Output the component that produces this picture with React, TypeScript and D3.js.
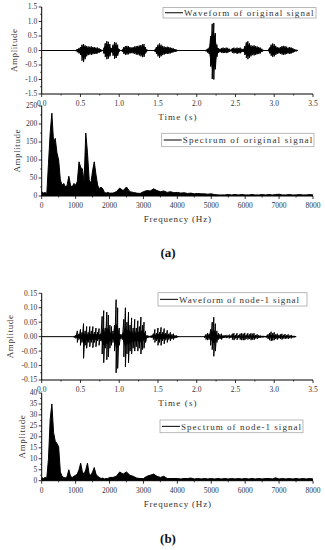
import React from "react";
import * as d3 from "d3";

const W = 325;
const H = 550;
const LEFT = 41.7;
const RIGHT = 313;

// ---- waveforms: envelope samples (max / min) every 0.02 s inside each burst ----
const WAVE_STEP = 0.02;

const origStarts = [0.44, 0.8, 1.04, 1.46, 2.12, 2.92];
const origHi = [
  [0.02, 0.05, 0.08, 0.12, 0.2, 0.22, 0.18, 0.15, 0.14, 0.13, 0.14, 0.12, 0.12, 0.1, 0.1, 0.08, 0.05, 0.02],
  [0.1, 0.25, 0.32, 0.3, 0.22, 0.08, 0.2, 0.29, 0.27, 0.2, 0.05],
  [0.04, 0.12, 0.15, 0.16, 0.15, 0.12, 0.1, 0.12, 0.14, 0.15, 0.16, 0.17, 0.19, 0.21, 0.22, 0.12, 0.03],
  [0.04, 0.12, 0.2, 0.24, 0.2, 0.16, 0.14, 0.12, 0.13, 0.12, 0.1, 0.09, 0.07, 0.05, 0.03, 0.01],
  [0.03, 0.06, 0.1, 0.5, 0.92, 0.95, 0.6, 0.2, 0.08, 0.06, 0.08, 0.1, 0.08, 0.1, 0.09, 0.06, 0.03,
   0.08, 0.1, 0.07, 0.1, 0.08, 0.1, 0.06, 0.05, 0.15, 0.28, 0.32, 0.25, 0.18, 0.16, 0.18, 0.15, 0.14, 0.12, 0.1, 0.06, 0.02],
  [0.02, 0.1, 0.2, 0.24, 0.22, 0.16, 0.12, 0.1, 0.12, 0.15, 0.16, 0.15, 0.13, 0.1, 0.12, 0.1, 0.08, 0.05, 0.03, 0.01],
];
const origLo = [
  [-0.02, -0.06, -0.1, -0.15, -0.35, -0.4, -0.3, -0.2, -0.16, -0.14, -0.15, -0.13, -0.12, -0.12, -0.1, -0.08, -0.05, -0.02],
  [-0.1, -0.22, -0.3, -0.28, -0.2, -0.06, -0.18, -0.28, -0.26, -0.18, -0.05],
  [-0.04, -0.12, -0.15, -0.14, -0.13, -0.1, -0.09, -0.1, -0.12, -0.14, -0.15, -0.17, -0.2, -0.23, -0.22, -0.1, -0.03],
  [-0.04, -0.12, -0.2, -0.25, -0.2, -0.16, -0.14, -0.12, -0.12, -0.11, -0.1, -0.08, -0.06, -0.05, -0.03, -0.01],
  [-0.03, -0.07, -0.12, -0.55, -0.98, -1.0, -0.65, -0.22, -0.08, -0.06, -0.08, -0.09, -0.08, -0.09, -0.08, -0.05, -0.03,
   -0.08, -0.1, -0.08, -0.12, -0.09, -0.1, -0.06, -0.05, -0.15, -0.25, -0.3, -0.25, -0.2, -0.16, -0.17, -0.15, -0.13, -0.12, -0.1, -0.05, -0.02],
  [-0.02, -0.1, -0.18, -0.22, -0.2, -0.15, -0.12, -0.1, -0.12, -0.14, -0.15, -0.14, -0.12, -0.1, -0.12, -0.1, -0.08, -0.05, -0.03, -0.01],
];
const origEnd = 3.29;

const nodeStarts = [0.42, 2.1];
const nodeHi = [
  [0.003, 0.005, 0.02, 0.01, 0.025, 0.015, 0.045, 0.02, 0.035, 0.015,
   0.035, 0.02, 0.035, 0.015, 0.03, 0.015, 0.028, 0.01, 0.07, 0.09,
   0.03, 0.085, 0.075, 0.04, 0.035, 0.02, 0.04, 0.128, 0.1, 0.03,
   0.008, 0.01, 0.06, 0.1, 0.05, 0.085, 0.04, 0.065, 0.03, 0.06,
   0.03, 0.055, 0.035, 0.068, 0.04, 0.05, 0.02, 0.005, 0.003, 0.003,
   0.004, 0.01, 0.025, 0.012, 0.03, 0.015, 0.032, 0.015, 0.028, 0.012,
   0.022, 0.01, 0.015, 0.008, 0.01, 0.005, 0.004, 0.002],
  [0.003, 0.008, 0.012, 0.01, 0.025, 0.05, 0.067, 0.045, 0.02, 0.012,
   0.008, 0.01, 0.005, 0.004, 0.006, 0.004, 0.007, 0.004, 0.01, 0.012,
   0.006, 0.012, 0.005, 0.01, 0.012, 0.01, 0.013, 0.007, 0.012, 0.008,
   0.012, 0.01, 0.012, 0.006, 0.008, 0.005, 0.004, 0.003, 0.002, 0.002,
   0.003, 0.008, 0.012, 0.017, 0.012, 0.015, 0.008, 0.01, 0.006, 0.008,
   0.01, 0.006, 0.009, 0.005, 0.008, 0.004, 0.006, 0.003, 0.002, 0.001],
];
const nodeLo = [
  [-0.003, -0.006, -0.02, -0.01, -0.03, -0.02, -0.075, -0.03, -0.04, -0.02,
   -0.035, -0.02, -0.038, -0.02, -0.035, -0.015, -0.03, -0.015, -0.06, -0.09,
   -0.04, -0.08, -0.07, -0.04, -0.03, -0.02, -0.05, -0.125, -0.11, -0.03,
   -0.008, -0.01, -0.07, -0.105, -0.06, -0.09, -0.05, -0.06, -0.04, -0.05,
   -0.035, -0.05, -0.04, -0.06, -0.045, -0.04, -0.02, -0.005, -0.003, -0.003,
   -0.004, -0.01, -0.02, -0.015, -0.03, -0.02, -0.03, -0.015, -0.025, -0.012,
   -0.02, -0.01, -0.015, -0.008, -0.01, -0.005, -0.004, -0.002],
  [-0.003, -0.01, -0.012, -0.01, -0.03, -0.045, -0.068, -0.05, -0.02, -0.01,
   -0.008, -0.01, -0.005, -0.004, -0.005, -0.004, -0.006, -0.004, -0.01, -0.012,
   -0.006, -0.011, -0.005, -0.01, -0.012, -0.012, -0.012, -0.007, -0.01, -0.008,
   -0.012, -0.01, -0.011, -0.006, -0.008, -0.005, -0.004, -0.003, -0.002, -0.002,
   -0.003, -0.008, -0.012, -0.015, -0.013, -0.012, -0.008, -0.01, -0.006, -0.008,
   -0.01, -0.006, -0.008, -0.006, -0.008, -0.005, -0.006, -0.003, -0.002, -0.001],
];
const nodeEnd = 3.28;

// ---- spectra: 50 Hz grid up to 2 kHz, 100 Hz grid after ----
const specFreq = [...d3.range(0, 2001, 50), ...d3.range(2100, 8001, 100)];
const origSpec = [
  12, 8, 10, 6, 90, 175, 230, 150, 160, 120,
  100, 45, 30, 35, 25, 30, 55, 30, 25, 35,
  30, 40, 95, 80, 75, 40, 175, 120, 45, 35,
  70, 95, 60, 30, 20, 25, 20, 10, 8, 10,
  8,
  8, 12, 22, 15, 25, 12, 10, 8, 7, 12,
  15, 14, 20, 15, 12, 14, 10, 12, 9, 10,
  8, 9, 7, 8, 6, 7, 6, 6, 5, 6,
  4, 3, 3, 3, 4, 3, 4, 3, 4, 3,
  3, 4, 3, 3, 4, 3, 4, 3, 4, 5,
  3, 3, 4, 3, 3, 4, 3, 3, 4, 3,
];
const nodeSpec = [
  1.5, 1, 1.5, 1.2, 10, 28, 35, 22, 18, 17,
  15.5, 4, 2, 1.5, 1.2, 2, 5, 2, 1.5, 2,
  2.5, 3, 5, 8, 4, 3, 5, 8, 3, 2.5,
  4, 6, 3, 2, 1.5, 1, 1.2, 0.8, 1, 1,
  1.5,
  1.5, 2, 4, 3, 4, 2.5, 2, 1.2, 1, 1,
  2, 2.5, 3, 2, 1.5, 2, 1, 1, 1, 1,
  0.8, 1, 1, 1.2, 0.8, 1, 0.8, 1, 0.8, 1,
  0.8, 1, 0.8, 1, 0.8, 1, 0.8, 1, 0.8, 1,
  0.8, 1, 0.8, 1, 0.8, 1, 1, 0.8, 1.3, 0.8,
  1, 0.8, 1, 0.8, 1, 0.8, 1, 0.8, 1, 0.8,
];

const TEXT = "#333";
const FONT = "'Liberation Serif', 'Times New Roman', serif";
const CW = 4.8; // glyph advance of the monospaced-looking labels

const mids = (t: number[]) => t.slice(1).map((v, i) => (v + t[i]) / 2);

type AxesProps = {
  x: d3.ScaleLinear<number, number>;
  y: d3.ScaleLinear<number, number>;
  xTicks: number[];
  yTicks: number[];
  xFmt: (v: number) => string;
  yFmt: (v: number) => string;
  xTitle: string;
  yTitleX: number;
};

function Axes({ x, y, xTicks, yTicks, xFmt, yFmt, xTitle, yTitleX }: AxesProps) {
  const [y0, y1] = y.range();
  const [x0, x1] = x.range();
  const yMid = (y0 + y1) / 2;
  return (
    <g>
      <line x1={x0} x2={x0} y1={y0} y2={y1} stroke="#000" strokeWidth={1} />
      <line x1={x0} x2={x1} y1={y0} y2={y0} stroke="#000" strokeWidth={1} />
      {yTicks.map((t) => (
        <g key={"y" + t}>
          <line x1={x0 - 3} x2={x0} y1={y(t)} y2={y(t)} stroke="#000" strokeWidth={0.8} />
          <text x={x0 - 4.5} y={y(t)} dy="0.33em" textAnchor="end" fontSize={7.5} fill={TEXT}>
            {yFmt(t)}
          </text>
        </g>
      ))}
      {mids(yTicks).map((t) => (
        <line key={"ym" + t} x1={x0 - 1.6} x2={x0} y1={y(t)} y2={y(t)} stroke="#000" strokeWidth={0.7} />
      ))}
      {xTicks.map((t) => (
        <g key={"x" + t}>
          <line x1={x(t)} x2={x(t)} y1={y0} y2={y0 + 3} stroke="#000" strokeWidth={0.8} />
          <text x={x(t)} y={y0 + 12} textAnchor="middle" fontSize={7.5} fill={TEXT}>
            {xFmt(t)}
          </text>
        </g>
      ))}
      {mids(xTicks).map((t) => (
        <line key={"xm" + t} x1={x(t)} x2={x(t)} y1={y0} y2={y0 + 1.6} stroke="#000" strokeWidth={0.7} />
      ))}
      <text x={(x0 + x1) / 2} y={y0 + 26} textAnchor="middle" fontSize={9} fill={TEXT}
        textLength={xTitle.length * CW} lengthAdjust="spacing">
        {xTitle}
      </text>
      <text transform={`translate(${yTitleX},${yMid}) rotate(-90)`} textAnchor="middle" dy="0.33em"
        fontSize={9} fill={TEXT} textLength={9 * CW} lengthAdjust="spacing">
        Amplitude
      </text>
    </g>
  );
}

function Legend({ x, y, w, h, label }: { x: number; y: number; w: number; h: number; label: string }) {
  return (
    <g>
      <rect x={x} y={y} width={w} height={h} fill="#fff" stroke="#a8a8a8" strokeWidth={0.8} />
      <line x1={x + 2} x2={x + 20} y1={y + h / 2} y2={y + h / 2} stroke="#000" strokeWidth={1} />
      <text x={x + 21} y={y + h / 2} dy="0.35em" fontSize={9} fill={TEXT}
        textLength={label.length * CW} lengthAdjust="spacing">
        {label}
      </text>
    </g>
  );
}

type Seg = { t: number; hi: number; lo: number }[];

function segments(starts: number[], hi: number[][], lo: number[][]): Seg[] {
  return starts.map((s, k) => hi[k].map((h, i) => ({ t: s + i * WAVE_STEP, hi: h, lo: lo[k][i] })));
}

function WavePanel(props: {
  top: number; bottom: number; yMax: number; starts: number[]; hi: number[][]; lo: number[][];
  end: number; yTicks: number[]; yFmt: (v: number) => string; yTitleX: number; core: number;
  legend: { x: number; y: number; w: number; h: number; label: string };
}) {
  const x = d3.scaleLinear().domain([0, 3.5]).range([LEFT, RIGHT]);
  const y = d3.scaleLinear().domain([-props.yMax, props.yMax]).range([props.bottom, props.top]);
  const segs = segments(props.starts, props.hi, props.lo);
  // zig-zag through max/min of every sample gives the oscillation texture
  const zig = d3.line<[number, number]>().x((d) => x(d[0])).y((d) => y(d[1]));
  // dense inner body of each burst
  const body = d3.area<{ t: number; hi: number; lo: number }>()
    .x((d) => x(d.t)).y0((d) => y(d.lo * props.core)).y1((d) => y(d.hi * props.core));
  return (
    <g>
      <line x1={x(0)} x2={x(props.end)} y1={y(0)} y2={y(0)} stroke="#000" strokeWidth={1} />
      {segs.map((s, i) => (
        <g key={i}>
          <path d={body(s) || ""} fill="#000" />
          <path d={zig(s.flatMap((d) => [[d.t, d.hi], [d.t, d.lo]] as [number, number][])) || ""}
            fill="none" stroke="#000" strokeWidth={1} />
        </g>
      ))}
      <Axes x={x} y={y} xTicks={d3.ticks(0, 3.5, 7)} yTicks={props.yTicks}
        xFmt={(v) => v.toFixed(1)} yFmt={props.yFmt} xTitle="Time (s)" yTitleX={props.yTitleX} />
      <Legend {...props.legend} />
    </g>
  );
}

function SpecPanel(props: {
  top: number; bottom: number; yMax: number; amp: number[]; yTicks: number[]; yTitleX: number;
  legend: { x: number; y: number; w: number; h: number; label: string };
}) {
  const x = d3.scaleLinear().domain([0, 8000]).range([LEFT, RIGHT]);
  const y = d3.scaleLinear().domain([0, props.yMax]).range([props.bottom, props.top]);
  const data = specFreq.map((f, i) => [f, props.amp[i]] as [number, number]);
  const area = d3.area<[number, number]>().x((d) => x(d[0])).y0(y(0)).y1((d) => y(d[1]));
  const line = d3.line<[number, number]>().x((d) => x(d[0])).y((d) => y(d[1]));
  return (
    <g>
      <path d={area(data) || ""} fill="#000" />
      <path d={line(data) || ""} fill="none" stroke="#000" strokeWidth={1} />
      <Axes x={x} y={y} xTicks={d3.ticks(0, 8000, 8)} yTicks={props.yTicks}
        xFmt={(v) => String(v)} yFmt={(v) => String(v)} xTitle="Frequency (Hz)" yTitleX={props.yTitleX} />
      <Legend {...props.legend} />
    </g>
  );
}

export default function App() {
  return (
    <svg width={W} height={H} fontFamily={FONT}
      style={{ position: "absolute", left: 0, top: 0, background: "#fff" }}>
      <rect width={W} height={H} fill="#fff" />
      <WavePanel top={7} bottom={94} yMax={1.5} starts={origStarts} hi={origHi} lo={origLo} end={origEnd}
        yTicks={d3.ticks(-1.5, 1.5, 6)} yFmt={(v) => v.toFixed(1)} yTitleX={14} core={0.7}
        legend={{ x: 163, y: 7.5, w: 153, h: 10.5, label: "Waveform of original signal" }} />
      <SpecPanel top={106} bottom={196} yMax={250} amp={origSpec} yTicks={d3.ticks(0, 250, 5)} yTitleX={17}
        legend={{ x: 161.7, y: 133.3, w: 152.3, h: 13.4, label: "Spectrum of original signal" }} />
      <text x={168} y={252} dy="0.35em" textAnchor="middle" fontSize={13} fontWeight="bold" fill="#111">(a)</text>

      <WavePanel top={293.3} bottom={380} yMax={0.15} starts={nodeStarts} hi={nodeHi} lo={nodeLo} end={nodeEnd}
        yTicks={d3.ticks(-0.15, 0.15, 6)} yFmt={(v) => v.toFixed(2)} yTitleX={10} core={0.35}
        legend={{ x: 158, y: 292.7, w: 149, h: 13.3, label: "Waveform of node-1 signal" }} />
      <SpecPanel top={393} bottom={480.7} yMax={40} amp={nodeSpec} yTicks={d3.ticks(0, 40, 8)} yTitleX={22}
        legend={{ x: 160, y: 420, w: 143, h: 12.7, label: "Spectrum of node-1 signal" }} />
      <text x={168} y={538} dy="0.35em" textAnchor="middle" fontSize={13} fontWeight="bold" fill="#111">(b)</text>
    </svg>
  );
}
